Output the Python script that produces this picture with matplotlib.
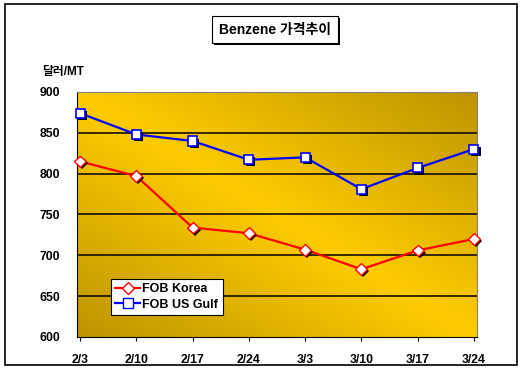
import matplotlib.pyplot as plt
import matplotlib.patheffects as pe
from matplotlib.patches import Rectangle
import numpy as np

plt.rcParams['font.family'] = ['Liberation Sans', 'Noto Sans CJK KR', 'DejaVu Sans']

dates = ["2/3", "2/10", "2/17", "2/24", "3/3", "3/10", "3/17", "3/24"]
fob_korea = [815, 797, 734, 727, 707, 683, 706, 720]
fob_us_gulf = [874, 848, 840, 817, 820, 781, 807, 830]

fig = plt.figure(figsize=(5.22, 3.73), dpi=100)
ax = fig.add_axes([77/522, 1-337/373, 400/522, 245/373])

# gold diagonal gradient background
gx, gy = np.meshgrid(np.linspace(0, 1, 200), np.linspace(1, 0, 200))
dark = np.abs(gx + gy - 1)
bright = np.array([1.0, 0.80, 0.0])
deep = np.array([0.74, 0.58, 0.0])
img = bright[None, None, :] * (1 - dark[..., None]) + deep[None, None, :] * dark[..., None]
ax.imshow(img, extent=(0, 1, 0, 1), transform=ax.transAxes, aspect='auto', zorder=0)

xs = list(range(len(dates)))
shadow = [pe.SimplePatchShadow(offset=(1.5, -1.5), shadow_rgbFace='black', alpha=1.0), pe.Normal()]

ax.plot(xs, fob_korea, color='red', lw=1.6, zorder=3)
ax.plot(xs, fob_korea, ls='none', marker='D', ms=6, mfc='white', mec='red', mew=1.0,
        zorder=4, path_effects=shadow, clip_on=False)
ax.plot(xs, fob_us_gulf, color='blue', lw=1.6, zorder=3)
ax.plot(xs, fob_us_gulf, ls='none', marker='s', ms=6.5, mfc='white', mec='blue', mew=1.2,
        zorder=4, path_effects=shadow, clip_on=False)

# legend handles
h1, = ax.plot([], [], color='red', lw=1.6, marker='D', ms=6, mfc='white', mec='red', label='FOB Korea')
h2, = ax.plot([], [], color='blue', lw=1.6, marker='s', ms=6.5, mfc='white', mec='blue', label='FOB US Gulf')

ax.set_xlim(-0.055, 7.055)
ax.set_ylim(600, 900)
ax.set_yticks(range(600, 901, 50))
ax.set_xticks(xs)
ax.set_xticklabels(dates)
for y in range(650, 900, 50):
    ax.axhline(y, color='black', lw=1.1, zorder=1)

ax.tick_params(axis='y', length=0, pad=12, labelsize=8.8)
ax.tick_params(axis='x', length=3, pad=9, labelsize=8.8, direction='out')
for lab in ax.get_xticklabels() + ax.get_yticklabels():
    lab.set_fontweight('bold')

ax.spines['bottom'].set_color('black')
ax.spines['left'].set_color('black')
ax.spines['top'].set_color('#808080')
ax.spines['right'].set_color('#808080')

leg = ax.legend(handles=[h1, h2], loc='lower left', bbox_to_anchor=(0.085, 0.09),
                frameon=True, fancybox=False, framealpha=1, edgecolor='black',
                prop={'weight': 'bold', 'size': 9}, handlelength=2.0, handletextpad=0.15,
                borderpad=0.35, labelspacing=0.25, borderaxespad=0)
leg.get_frame().set_linewidth(0.8)

# outer border
fig.patches.append(Rectangle((5/522, 1-365/373), 512/522, 361/373, transform=fig.transFigure,
                             fill=False, edgecolor='black', lw=1.2))

# title box with shadow
fig.patches.append(Rectangle((214/522, 1-45/373), 126/522, 27/373, transform=fig.transFigure,
                             facecolor='black', edgecolor='black', lw=0))
fig.patches.append(Rectangle((212/522, 1-43/373), 126/522, 27/373, transform=fig.transFigure,
                             facecolor='white', edgecolor='black', lw=0.8))
fig.text(275/522, 1-30/373, "Benzene 가격추이", ha='center', va='center',
         fontsize=10, fontweight='bold')

fig.text(42/522, 1-72/373, "달러/MT", ha='left', va='center', fontsize=8.5, fontweight='bold')

fig.savefig("out.png", dpi=100)
